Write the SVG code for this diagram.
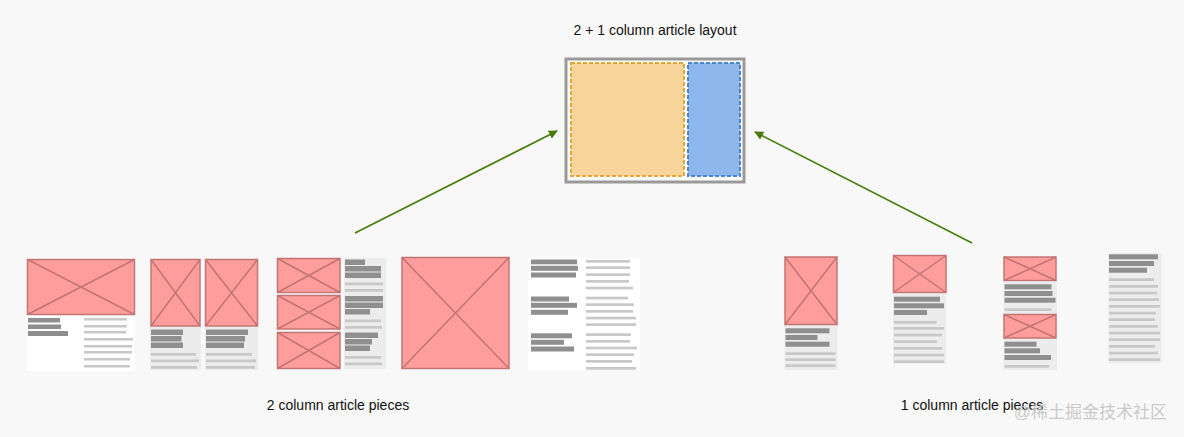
<svg xmlns="http://www.w3.org/2000/svg" width="1184" height="437" viewBox="0 0 1184 437">
<defs>
<style>
.t{font-family:"Liberation Sans",Arial,sans-serif;font-size:14px;fill:#111}
.img{fill:#ff9d9d;stroke:#c27473;stroke-width:1.5}
.x{stroke:#c27473;stroke-width:1.5}
.d{fill:#8f8f8f}
.l{fill:#c8c8c8}
.wb{fill:#ffffff}
.gb{fill:#ececec}
.conn{stroke:#4b7a0d;stroke-width:1.6;fill:none}
</style>
<marker id="ah" viewBox="0 0 10 10" refX="9" refY="5" markerWidth="9" markerHeight="9" markerUnits="userSpaceOnUse" orient="auto">
<path d="M0,0 L10,5 L0,10 z" fill="#4b7a0d"/>
</marker>
</defs>
<rect width="1184" height="437" fill="#f8f8f8"/>

<g id="title"><text class="t" x="655" y="35" text-anchor="middle">2 + 1 column article layout</text></g>

<g id="layout">
<rect x="566" y="59" width="178" height="123" fill="#ffffff" stroke="#999" stroke-width="3"/>
<rect x="571" y="63" width="113" height="113" fill="#fad59b" stroke="#e5a636" stroke-width="2" stroke-dasharray="4,2"/>
<rect x="688" y="63" width="52" height="113" fill="#8cb6ec" stroke="#4a85cf" stroke-width="2" stroke-dasharray="4,2"/>
</g>

<g id="connectors">
<line class="conn" x1="355" y1="233" x2="557" y2="131" marker-end="url(#ah)"/>
<line class="conn" x1="972" y1="243" x2="755" y2="132" marker-end="url(#ah)"/>
</g>

<g id="piece1">
<rect class="wb" x="27" y="258" width="108" height="113"/>
<rect class="img" x="27.5" y="259.5" width="107" height="55"/>
<path class="x" d="M27.5,259.5 L134.5,314.5 M134.5,259.5 L27.5,314.5"/>
<rect class="d" x="28" y="318" width="32" height="4.5"/>
<rect class="d" x="28" y="324.5" width="33" height="4.5"/>
<rect class="d" x="28" y="331" width="40" height="5"/>
<rect class="l" x="84" y="318" width="43" height="2.5"/>
<rect class="l" x="84" y="325" width="43" height="2.5"/>
<rect class="l" x="84" y="331" width="42" height="2.5"/>
<rect class="l" x="84" y="338" width="49" height="2.5"/>
<rect class="l" x="84" y="345" width="48" height="2.5"/>
<rect class="l" x="84" y="351" width="48" height="2.5"/>
<rect class="l" x="84" y="358" width="46" height="2.5"/>
<rect class="l" x="84" y="365" width="46" height="2.5"/>
</g>

<g id="piece2">
<rect class="gb" x="150" y="327" width="51" height="43"/>
<rect class="gb" x="205" y="327" width="53" height="43"/>
<rect class="img" x="151" y="259.5" width="49" height="66.5"/>
<path class="x" d="M151,259.5 L200,326 M200,259.5 L151,326"/>
<rect class="img" x="205.5" y="259.5" width="52" height="66.5"/>
<path class="x" d="M205.5,259.5 L257.5,326 M257.5,259.5 L205.5,326"/>
<rect class="d" x="151" y="329.5" width="32" height="5.5"/>
<rect class="d" x="151" y="336" width="30.5" height="5.5"/>
<rect class="d" x="151" y="342.5" width="32" height="5.5"/>
<rect class="l" x="151" y="353" width="45" height="2.7"/>
<rect class="l" x="151" y="359.5" width="48" height="2.7"/>
<rect class="l" x="151" y="366" width="46" height="2.7"/>
<rect class="d" x="206" y="329.5" width="42" height="5.5"/>
<rect class="d" x="206" y="336" width="39" height="5.5"/>
<rect class="d" x="206" y="342.5" width="38" height="5.5"/>
<rect class="l" x="206" y="353" width="46" height="2.7"/>
<rect class="l" x="206" y="359.5" width="50" height="2.7"/>
<rect class="l" x="206" y="366" width="49" height="2.7"/>
</g>

<g id="piece3">
<rect class="gb" x="344" y="258" width="42" height="111"/>
<rect class="img" x="277.5" y="258.5" width="62.5" height="34"/>
<path class="x" d="M277.5,258.5 L340,292.5 M340,258.5 L277.5,292.5"/>
<rect class="img" x="277.5" y="295.5" width="62.5" height="33.5"/>
<path class="x" d="M277.5,295.5 L340,329 M340,295.5 L277.5,329"/>
<rect class="img" x="277.5" y="332.5" width="62.5" height="36"/>
<path class="x" d="M277.5,332.5 L340,368.5 M340,332.5 L277.5,368.5"/>
<rect class="d" x="345" y="259.5" width="20" height="5.5"/>
<rect class="d" x="345" y="266" width="36" height="5.5"/>
<rect class="d" x="345" y="272.5" width="36" height="5.5"/>
<rect class="l" x="345" y="282.5" width="38" height="2.7"/>
<rect class="l" x="345" y="289" width="38" height="2.7"/>
<rect class="d" x="345" y="296" width="38" height="5.5"/>
<rect class="d" x="345" y="302.5" width="38" height="5.5"/>
<rect class="d" x="345" y="309" width="25" height="5.5"/>
<rect class="l" x="345" y="319.5" width="36" height="2.7"/>
<rect class="l" x="345" y="326" width="37" height="2.7"/>
<rect class="d" x="345" y="332.5" width="33" height="5.5"/>
<rect class="d" x="345" y="339" width="27" height="5.5"/>
<rect class="d" x="345" y="345.5" width="25" height="5.5"/>
<rect class="l" x="345" y="356" width="36" height="2.7"/>
<rect class="l" x="345" y="362.5" width="37" height="2.7"/>
</g>

<g id="piece4">
<rect class="img" x="402" y="257.5" width="107" height="111"/>
<path class="x" d="M402,257.5 L509,368.5 M509,257.5 L402,368.5"/>
</g>

<g id="piece5">
<rect class="wb" x="528" y="258" width="112" height="112"/>
<rect class="d" x="531" y="259.5" width="46" height="4.8"/>
<rect class="d" x="531" y="265.8" width="47" height="5"/>
<rect class="d" x="531" y="272.5" width="45" height="5"/>
<rect class="d" x="531" y="296.5" width="38" height="5"/>
<rect class="d" x="531" y="302.8" width="46" height="5"/>
<rect class="d" x="531" y="309.8" width="37" height="5"/>
<rect class="d" x="531" y="333.3" width="41" height="5"/>
<rect class="d" x="531" y="339.8" width="33" height="5"/>
<rect class="d" x="531" y="346.5" width="43" height="5"/>
<rect class="l" x="586" y="260" width="44" height="2.7"/>
<rect class="l" x="586" y="266.3" width="44" height="2.7"/>
<rect class="l" x="586" y="273.3" width="44" height="2.7"/>
<rect class="l" x="586" y="280" width="43" height="2.7"/>
<rect class="l" x="586" y="286.7" width="47" height="2.7"/>
<rect class="l" x="586" y="296.7" width="42" height="2.7"/>
<rect class="l" x="586" y="303.3" width="48" height="2.7"/>
<rect class="l" x="586" y="310" width="47" height="2.7"/>
<rect class="l" x="586" y="316.7" width="50" height="2.7"/>
<rect class="l" x="586" y="323.3" width="50" height="2.7"/>
<rect class="l" x="586" y="333.3" width="45" height="2.7"/>
<rect class="l" x="586" y="340" width="44" height="2.7"/>
<rect class="l" x="586" y="346.7" width="51" height="2.7"/>
<rect class="l" x="586" y="353.3" width="48" height="2.7"/>
<rect class="l" x="586" y="360" width="46" height="2.7"/>
<rect class="l" x="586" y="367" width="50" height="2.7"/>
</g>

<g id="piece6">
<rect class="gb" x="784.5" y="325" width="53" height="45"/>
<rect class="img" x="785" y="257" width="52" height="67.5"/>
<path class="x" d="M785,257 L837,324.5 M837,257 L785,324.5"/>
<rect class="d" x="785.5" y="328.3" width="44" height="5"/>
<rect class="d" x="785.5" y="335" width="32" height="5"/>
<rect class="d" x="785.5" y="341.7" width="44" height="5"/>
<rect class="l" x="785.5" y="352.3" width="50" height="2.7"/>
<rect class="l" x="785.5" y="358.3" width="50" height="2.7"/>
<rect class="l" x="785.5" y="364.3" width="50" height="2.7"/>
</g>

<g id="piece7">
<rect class="gb" x="893" y="294" width="53" height="70"/>
<rect class="img" x="893.5" y="255.5" width="52.5" height="37"/>
<path class="x" d="M893.5,255.5 L946,292.5 M946,255.5 L893.5,292.5"/>
<rect class="d" x="894" y="296.7" width="46" height="5"/>
<rect class="d" x="894" y="303.3" width="50" height="5"/>
<rect class="d" x="894" y="310" width="33" height="5"/>
<rect class="l" x="894" y="321" width="42.7" height="2.7"/>
<rect class="l" x="894" y="327" width="50" height="2.7"/>
<rect class="l" x="894" y="333.7" width="48" height="2.7"/>
<rect class="l" x="894" y="340.3" width="43" height="2.7"/>
<rect class="l" x="894" y="347" width="48" height="2.7"/>
<rect class="l" x="894" y="353.7" width="50" height="2.7"/>
<rect class="l" x="894" y="360.3" width="50" height="2.7"/>
</g>

<g id="piece8">
<rect class="gb" x="1003.5" y="282" width="53.5" height="88"/>
<rect class="img" x="1004" y="257" width="52" height="23.5"/>
<path class="x" d="M1004,257 L1056,280.5 M1056,257 L1004,280.5"/>
<rect class="d" x="1004.5" y="284.3" width="47" height="5"/>
<rect class="d" x="1004.5" y="291" width="48" height="5"/>
<rect class="d" x="1004.5" y="297.7" width="51" height="5"/>
<rect class="l" x="1004.5" y="308.3" width="47" height="2.7"/>
<rect class="img" x="1004" y="314.5" width="52" height="23.5"/>
<path class="x" d="M1004,314.5 L1056,338 M1056,314.5 L1004,338"/>
<rect class="d" x="1004.5" y="341.7" width="32" height="5"/>
<rect class="d" x="1004.5" y="348.3" width="35.5" height="5"/>
<rect class="d" x="1004.5" y="355" width="46.5" height="5"/>
<rect class="l" x="1004.5" y="365" width="44.5" height="2.7"/>
</g>

<g id="piece9">
<rect class="gb" x="1108.5" y="253" width="53" height="110"/>
<rect class="d" x="1109" y="254.3" width="49" height="5"/>
<rect class="d" x="1109" y="261" width="45" height="5"/>
<rect class="d" x="1109" y="267.7" width="38" height="5"/>
<rect class="l" x="1109" y="278.3" width="45" height="2.7"/>
<rect class="l" x="1109" y="285" width="49" height="2.7"/>
<rect class="l" x="1109" y="291.7" width="48" height="2.7"/>
<rect class="l" x="1109" y="298.3" width="50" height="2.7"/>
<rect class="l" x="1109" y="305" width="51" height="2.7"/>
<rect class="l" x="1109" y="311.7" width="47" height="2.7"/>
<rect class="l" x="1109" y="318.3" width="46" height="2.7"/>
<rect class="l" x="1109" y="325" width="49" height="2.7"/>
<rect class="l" x="1109" y="331.7" width="51" height="2.7"/>
<rect class="l" x="1109" y="338.3" width="51" height="2.7"/>
<rect class="l" x="1109" y="345" width="46" height="2.7"/>
<rect class="l" x="1109" y="351.7" width="49" height="2.7"/>
<rect class="l" x="1109" y="358.3" width="51" height="2.7"/>
</g>

<g id="label-2col"><text class="t" x="338" y="410" text-anchor="middle">2 column article pieces</text></g>
<g id="label-1col"><text class="t" x="972" y="410" text-anchor="middle">1 column article pieces</text></g>
<g id="watermark"><text x="1167" y="418" text-anchor="end" font-family="'Liberation Sans','Noto Sans CJK SC',sans-serif" font-size="17" fill="#bdbdbd" fill-opacity="0.8">@稀土掘金技术社区</text></g>
</svg>
